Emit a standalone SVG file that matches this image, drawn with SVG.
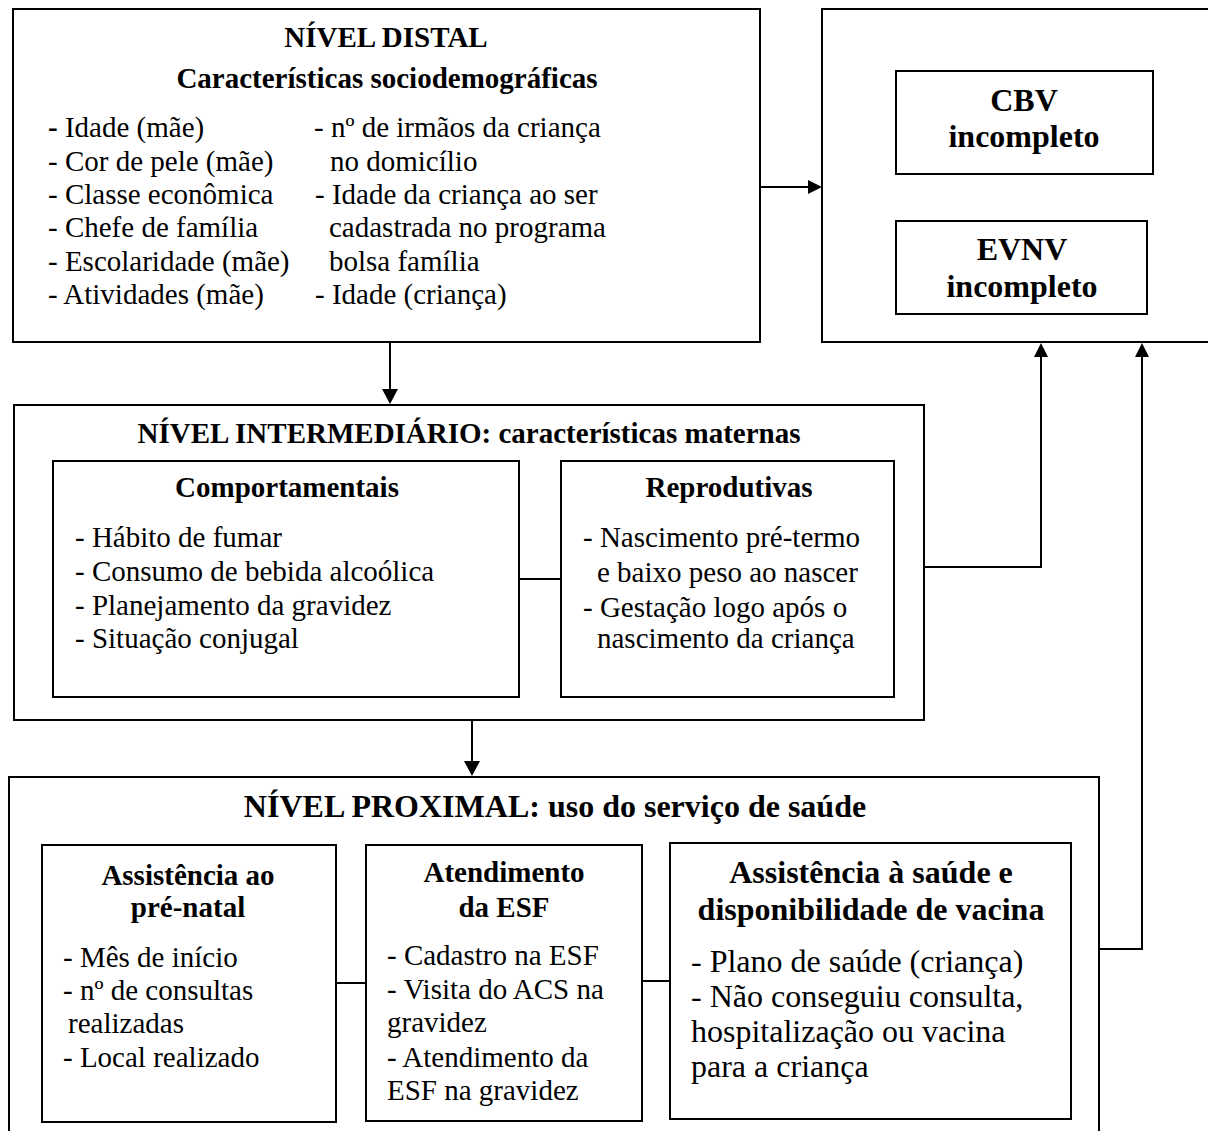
<svg xmlns="http://www.w3.org/2000/svg" width="1208" height="1131" viewBox="0 0 1208 1131">
<style>
text{font-family:"Liberation Serif","Times New Roman",serif;fill:#000;font-size:29px}
.b{font-weight:bold}
.c{text-anchor:middle}
.big{font-size:32px}
rect{fill:none;stroke:#000;stroke-width:2}
.ln{fill:none;stroke:#000;stroke-width:2}
.ah{fill:#000;stroke:none}
</style>
<rect x="0" y="0" width="1208" height="1131" style="fill:#fff;stroke:none"/>
<g id="distal">
<rect x="13" y="9" width="747" height="333"/>
<text class="b c" x="386" y="47">NÍVEL DISTAL</text>
<text class="b c" x="387" y="88">Características sociodemográficas</text>
<text x="48" y="137"><tspan class="b">-</tspan> Idade (mãe)</text>
<text x="48" y="171">- Cor de pele (mãe)</text>
<text x="48" y="204">- Classe econômica</text>
<text x="48" y="237">- Chefe de família</text>
<text x="48" y="271">- Escolaridade (mãe)</text>
<text x="48" y="304">- Atividades (mãe)</text>
<text x="314" y="137">- nº de irmãos da criança</text>
<text x="330" y="171">no domicílio</text>
<text x="315" y="204">- Idade da criança ao ser</text>
<text x="329" y="237">cadastrada no programa</text>
<text x="329" y="271">bolsa família</text>
<text x="315" y="304">- Idade (criança)</text>
</g>
<g id="desfecho">
<rect x="822" y="9" width="400" height="333"/>
</g>
<g id="cbv">
<rect x="896" y="71" width="257" height="103"/>
<text class="b c big" x="1024" y="111">CBV</text>
<text class="b c big" x="1024" y="147">incompleto</text>
</g>
<g id="evnv">
<rect x="896" y="221" width="251" height="93"/>
<text class="b c big" x="1022" y="260">EVNV</text>
<text class="b c big" x="1022" y="297">incompleto</text>
</g>
<g id="intermediario">
<rect x="14" y="405" width="910" height="315"/>
<text class="b c" x="469" y="443">NÍVEL INTERMEDIÁRIO: características maternas</text>
</g>
<g id="comportamentais">
<rect x="53" y="461" width="466" height="236"/>
<text class="b c" x="287" y="497">Comportamentais</text>
<text x="75" y="547">- Hábito de fumar</text>
<text x="75" y="581">- Consumo de bebida alcoólica</text>
<text x="75" y="615">- Planejamento da gravidez</text>
<text x="75" y="648">- Situação conjugal</text>
</g>
<g id="reprodutivas">
<rect x="561" y="461" width="333" height="236"/>
<text class="b c" x="729" y="497">Reprodutivas</text>
<text x="583" y="547">- Nascimento pré-termo</text>
<text x="597" y="582">e baixo peso ao nascer</text>
<text x="583" y="617">- Gestação logo após o</text>
<text x="597" y="648">nascimento da criança</text>
</g>
<g id="proximal">
<rect x="9" y="777" width="1090" height="370"/>
<text class="b c big" x="555" y="817">NÍVEL PROXIMAL: uso do serviço de saúde</text>
</g>
<g id="prenatal">
<rect x="42" y="845" width="294" height="277"/>
<text class="b c" x="188" y="885">Assistência ao</text>
<text class="b c" x="188" y="917">pré-natal</text>
<text x="63" y="967">- Mês de início</text>
<text x="63" y="1000">- nº de consultas</text>
<text x="68" y="1033">realizadas</text>
<text x="63" y="1067">- Local realizado</text>
</g>
<g id="esf">
<rect x="366" y="845" width="276" height="276"/>
<text class="b c" x="504" y="882">Atendimento</text>
<text class="b c" x="504" y="917">da ESF</text>
<text x="387" y="965">- Cadastro na ESF</text>
<text x="387" y="999">- Visita do ACS na</text>
<text x="387" y="1032">gravidez</text>
<text x="387" y="1067">- Atendimento da</text>
<text x="387" y="1100">ESF na gravidez</text>
</g>
<g id="saude">
<rect x="670" y="843" width="401" height="276"/>
<text class="b c big" x="871" y="883">Assistência à saúde e</text>
<text class="b c big" x="871" y="920">disponibilidade de vacina</text>
<text class="big" x="691" y="972">- Plano de saúde (criança)</text>
<text class="big" x="691" y="1007">- Não conseguiu consulta,</text>
<text class="big" x="691" y="1042">hospitalização ou vacina</text>
<text class="big" x="691" y="1077">para a criança</text>
</g>
<g id="connectors">
<line class="ln" x1="760" y1="187" x2="809" y2="187"/>
<polygon class="ah" points="822,187 808,180 808,194"/>
<line class="ln" x1="390" y1="342" x2="390" y2="390"/>
<polygon class="ah" points="390,404 382,389 398,389"/>
<line class="ln" x1="472" y1="720" x2="472" y2="762"/>
<polygon class="ah" points="472,776 464,761 480,761"/>
<line class="ln" x1="519" y1="579" x2="561" y2="579"/>
<polyline class="ln" points="924,567 1041,567 1041,356"/>
<polygon class="ah" points="1041,343 1034,357 1048,357"/>
<polyline class="ln" points="1099,949 1142,949 1142,356"/>
<polygon class="ah" points="1142,343 1135,357 1149,357"/>
<line class="ln" x1="336" y1="983" x2="366" y2="983"/>
<line class="ln" x1="642" y1="981" x2="670" y2="981"/>
</g>
</svg>
